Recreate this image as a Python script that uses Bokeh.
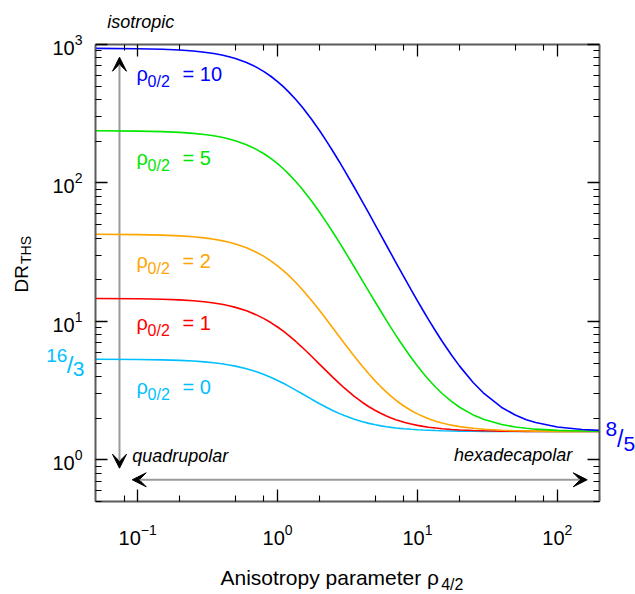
from math import pi
from bokeh.plotting import figure
from bokeh.models import (LogAxis, FixedTicker, Label, Arrow, VeeHead,
                          ColumnDataSource, Range1d, CustomJSTickFormatter)
from bokeh.core.properties import value
from bokeh.embed import file_html
from bokeh.resources import INLINE

# ---------------- data ----------------
rho42 = [0.05, 0.1, 0.15, 0.2, 0.25, 0.3, 0.35, 0.4, 0.45, 0.5,
         0.6, 0.7, 0.8, 0.9, 1, 1.1, 1.2, 1.35, 1.5, 1.75,
         2, 2.25, 2.5, 2.75, 3, 3.5, 4, 4.5, 5, 5.5,
         6, 6.5, 7, 7.5, 8, 9, 10, 11, 12, 13.5,
         15, 17.5, 20, 25, 30, 40, 50, 60, 70, 100,
         150, 200]

dr_rho0_0 = [5.326, 5.306, 5.272, 5.226, 5.168, 5.100, 5.023, 4.938, 4.846, 4.750,
             4.547, 4.339, 4.133, 3.933, 3.745, 3.569, 3.406, 3.189, 3.000, 2.742,
             2.542, 2.386, 2.263, 2.165, 2.087, 1.971, 1.890, 1.833, 1.791, 1.759,
             1.735, 1.716, 1.700, 1.688, 1.677, 1.661, 1.650, 1.641, 1.635, 1.627,
             1.622, 1.616, 1.613, 1.608, 1.606, 1.603, 1.602, 1.601, 1.601, 1.601,
             1.600, 1.600]
dr_rho0_1 = [14.643, 14.571, 14.452, 14.291, 14.088, 13.850, 13.580, 13.282, 12.962, 12.625,
             11.916, 11.187, 10.464, 9.767, 9.106, 8.491, 7.923, 7.160, 6.500, 5.598,
             4.897, 4.351, 3.921, 3.579, 3.304, 2.897, 2.617, 2.417, 2.269, 2.158,
             2.072, 2.005, 1.950, 1.906, 1.870, 1.814, 1.774, 1.744, 1.721, 1.696,
             1.678, 1.657, 1.644, 1.628, 1.620, 1.611, 1.607, 1.605, 1.604, 1.602,
             1.601, 1.600]
dr_rho0_2 = [42.591, 42.365, 41.993, 41.485, 40.850, 40.100, 39.250, 38.315, 37.310, 36.250,
             34.021, 31.730, 29.459, 27.267, 25.191, 23.256, 21.471, 19.075, 17.000, 14.164,
             11.963, 10.246, 8.895, 7.821, 6.957, 5.677, 4.795, 4.167, 3.704, 3.354,
             3.084, 2.872, 2.701, 2.563, 2.448, 2.273, 2.147, 2.053, 1.981, 1.902,
             1.845, 1.780, 1.738, 1.689, 1.662, 1.635, 1.622, 1.615, 1.611, 1.606,
             1.602, 1.601]
dr_rho0_5 = [238.23, 236.92, 234.78, 231.84, 228.18, 223.85, 218.94, 213.55, 207.74, 201.63,
             188.76, 175.54, 162.42, 149.77, 137.79, 126.62, 116.31, 102.48, 90.50, 74.13,
             61.42, 51.51, 43.71, 37.51, 32.52, 25.13, 20.05, 16.42, 13.75, 11.73,
             10.17, 8.940, 7.956, 7.156, 6.497, 5.486, 4.758, 4.216, 3.802, 3.343,
             3.014, 2.640, 2.397, 2.111, 1.955, 1.800, 1.728, 1.689, 1.665, 1.632,
             1.614, 1.608]
dr_rho0_10 = [936.94, 931.78, 923.30, 911.70, 897.20, 880.10, 860.71, 839.38, 816.44, 792.25,
              741.39, 689.12, 637.30, 587.27, 539.92, 495.76, 455.02, 400.35, 353.00, 288.29,
              238.06, 198.88, 168.05, 143.54, 123.83, 94.62, 74.51, 60.17, 49.61, 41.63,
              35.47, 30.61, 26.72, 23.56, 20.96, 16.96, 14.08, 11.94, 10.30, 8.490,
              7.189, 5.713, 4.752, 3.620, 3.003, 2.390, 2.106, 1.951, 1.858, 1.726,
              1.656, 1.632]

rho02_values = ["0", "1", "2", "5", "10"]
series = [dr_rho0_0, dr_rho0_1, dr_rho0_2, dr_rho0_5, dr_rho0_10]
colors = ["#00BFFF", "#FF0000", "#FFA500", "#00E600", "#0000FF"]
label_y = [2.988, 8.59, 24.1, 133.6, 540.4]   # baseline of each curve label (data units)

x_major = [0.1, 1, 10, 100]
x_minor = [0.08, 0.2, 0.5, 0.8, 2, 5, 8, 20, 50, 80, 200]
y_major = [1, 10, 100, 1000]
y_minor = [m * d for d in (0.1, 1, 10, 100) for m in range(2, 10)]

FONT = "Liberation Sans"

p = figure(width=635, height=594, x_axis_type="log", y_axis_type="log",
           x_range=Range1d(0.05, 200), y_range=Range1d(0.5, 1000),
           output_backend="svg", toolbar_location=None,
           min_border_left=95, min_border_right=36, min_border_top=44,
           min_border_bottom=93)
p.grid.visible = False
p.outline_line_color = None
p.background_fill_color = "white"
p.border_fill_color = "white"


def style_axis(ax, labels, standoff=10):
    ax.axis_line_color = "#5a5a5a"
    ax.axis_line_width = 2
    ax.major_tick_in = 12
    ax.major_tick_out = 0
    ax.minor_tick_in = 6
    ax.minor_tick_out = 0
    ax.major_tick_line_color = "black"
    ax.minor_tick_line_color = "black"
    ax.major_tick_line_width = 1.3
    ax.minor_tick_line_width = 1.1
    ax.major_label_text_font = FONT
    ax.major_label_text_color = "black"
    ax.major_label_text_font_size = "20px"
    ax.major_label_standoff = standoff
    if not labels:
        ax.formatter = CustomJSTickFormatter(code="return ''")
        ax.major_label_text_font_size = "10px"
        ax.major_label_standoff = 0


p.xaxis.ticker = FixedTicker(ticks=x_major, minor_ticks=x_minor)
p.yaxis.ticker = FixedTicker(ticks=y_major, minor_ticks=y_minor)
style_axis(p.xaxis[0], True, 22)
style_axis(p.yaxis[0], True, 13)

top = LogAxis(ticker=FixedTicker(ticks=x_major, minor_ticks=x_minor))
right = LogAxis(ticker=FixedTicker(ticks=y_major, minor_ticks=y_minor))
style_axis(top, False)
style_axis(right, False)
p.add_layout(top, "above")
p.add_layout(right, "right")

# ---------------- arrows ----------------
def head():
    return VeeHead(size=14, fill_color="black", line_color="black", line_width=1)

p.add_layout(Arrow(start=head(), end=head(), x_start=0.0742, y_start=0.87,
                   x_end=0.0742, y_end=809, line_color="#9a9a9a", line_width=2,
                   level="underlay"))
p.add_layout(Arrow(start=head(), end=head(), x_start=0.0915, y_start=0.7174,
                   x_end=163.4, y_end=0.7174, line_color="#9a9a9a", line_width=2,
                   level="underlay"))

# ---------------- curves ----------------
for vals, col in zip(series, colors):
    src = ColumnDataSource(dict(x=rho42, y=vals))
    p.line("x", "y", source=src, line_color=col, line_width=1.6)

# ---------------- curve labels (inside the frame) ----------------
def lab(x, y, s, size, color="black", style="normal", align="left", dx=0, dy=0):
    p.add_layout(Label(x=x, y=y, x_offset=dx, y_offset=dy, text=s,
                       text_font=FONT, text_font_size=size, text_font_style=style,
                       text_color=color, text_align=align,
                       text_baseline="alphabetic"))

for r0, col, ly in zip(rho02_values, colors, label_y):
    lab(0.1, ly, "\u03c1", "20px", col, dx=-1, dy=7.5)
    lab(0.1, ly, "0/2", "16px", col, dx=10, dy=0)
    lab(0.1, ly, "= " + r0, "20px", col, dx=45, dy=7.5)

lab(0.0915, 0.956, "quadrupolar", "18px", style="italic", dy=6.5)
lab(127.6, 0.9725, "hexadecapolar", "18px", style="italic", align="right", dy=6.5)

# ---------------- texts outside the frame (overlay level, unclipped) ----------------
def otxt(x, y, s, size, color="black", style="normal", angle=0.0):
    p.text(x=[x], y=[y], text=[s], text_font=value(FONT),
           text_font_size=value(size), text_font_style=style,
           text_color=color, text_align="left", text_baseline="alphabetic",
           angle=angle, level="overlay")

otxt(0.0606, 1449, "isotropic", "18px", style="italic")

# 16/3 left of the frame
otxt(0.02221, 5.717, "16", "19px", colors[0])
otxt(0.03112, 4.889, "/", "24px", colors[0])
otxt(0.03442, 4.516, "3", "21px", colors[0])

# 8/5 right of the frame
otxt(220.8, 1.6645, "8", "21px", colors[4])
otxt(266.8, 1.4249, "/", "23px", colors[4])
otxt(296.9, 1.2966, "5", "21px", colors[4])

# axis titles
otxt(0.3911, 0.1413, "Anisotropy parameter \u03c1", "21px")
otxt(14.78, 0.1259, "4/2", "16px")
otxt(0.01475, 16.17, "DR", "19px", angle=pi / 2)
otxt(0.01598, 25.97, "THS", "14px", angle=pi / 2)

open("out.html", "w").write(file_html(p, INLINE))
